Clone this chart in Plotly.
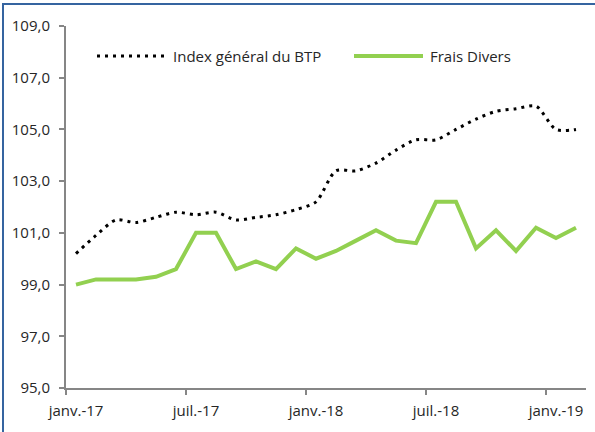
import plotly.graph_objects as go

months = ["janv.-17", "févr.-17", "mars-17", "avr.-17", "mai-17", "juin-17",
          "juil.-17", "août-17", "sept.-17", "oct.-17", "nov.-17", "déc.-17",
          "janv.-18", "févr.-18", "mars-18", "avr.-18", "mai-18", "juin-18",
          "juil.-18", "août-18", "sept.-18", "oct.-18", "nov.-18", "déc.-18",
          "janv.-19", "févr.-19"]

index_btp = [100.2, 100.9, 101.5, 101.4, 101.6, 101.8, 101.7, 101.8, 101.5, 101.6,
             101.7, 101.9, 102.2, 103.4, 103.4, 103.7, 104.2, 104.6, 104.6, 105.0,
             105.4, 105.7, 105.8, 105.9, 105.0, 105.0]

frais_divers = [99.0, 99.2, 99.2, 99.2, 99.3, 99.6, 101.0, 101.0, 99.6, 99.9,
                99.6, 100.4, 100.0, 100.3, 100.7, 101.1, 100.7, 100.6, 102.2, 102.2,
                100.4, 101.1, 100.3, 101.2, 100.8, 101.2]

label_months = ["janv.-17", "juil.-17", "janv.-18", "juil.-18", "janv.-19"]
name_btp = "Index général du BTP"
name_frais = "Frais Divers"

FONT = "Open Sans"
TXT = "#262626"
GREEN = "#92D050"
AXIS = "#868686"
BORDER = "#3564A0"

xs = list(range(len(months)))

fig = go.Figure()
fig.add_trace(go.Scatter(
    x=xs, y=index_btp, mode="lines", name=name_btp,
    line=dict(color="black", width=3, dash="3px,5px", shape="spline", smoothing=0.8),
))
fig.add_trace(go.Scatter(
    x=xs, y=frais_divers, mode="lines", name=name_frais,
    line=dict(color=GREEN, width=4),
))

tickvals = [months.index(m) for m in label_months]
boundaries = [v - 0.5 for v in tickvals]

W, H = 595, 432
L, R, T, B = 66, 9, 26, 44
pw, ph = W - L - R, H - T - B


def px(x):
    return (x - L) / pw


def py(y):
    return (H - B - y) / ph


leg_y = py(56)
shapes = [
    dict(type="line", xref="paper", yref="paper", x0=px(97), x1=px(166), y0=leg_y, y1=leg_y,
         line=dict(color="black", width=3, dash="3px,5px")),
    dict(type="line", xref="paper", yref="paper", x0=px(354), x1=px(423), y0=leg_y, y1=leg_y,
         line=dict(color=GREEN, width=4)),
    dict(type="rect", xref="paper", yref="paper", x0=px(3), x1=px(640), y0=py(4), y1=py(470),
         line=dict(color=BORDER, width=2), fillcolor="rgba(0,0,0,0)", layer="below"),
]
annotations = [
    dict(xref="paper", yref="paper", x=px(171), y=leg_y, xanchor="left", yanchor="middle",
         text=name_btp, showarrow=False, font=dict(family=FONT, size=15, color=TXT)),
    dict(xref="paper", yref="paper", x=px(428), y=leg_y, xanchor="left", yanchor="middle",
         text=name_frais, showarrow=False, font=dict(family=FONT, size=15, color=TXT)),
]

fig.update_layout(
    width=W, height=H,
    margin=dict(l=L, r=R, t=T, b=B, pad=0),
    paper_bgcolor="white", plot_bgcolor="rgba(0,0,0,0)",
    showlegend=False,
    separators=", ",
    font=dict(family=FONT, size=15, color=TXT),
    shapes=shapes,
    annotations=annotations,
    xaxis=dict(
        range=[-0.5, len(months) - 0.5],
        tickmode="array", tickvals=tickvals, ticktext=label_months,
        ticks="", showgrid=False, zeroline=False,
        showline=True, linecolor=AXIS, linewidth=2,
        ticklabelstandoff=8,
        minor=dict(tickmode="array", tickvals=boundaries, ticks="outside",
                   ticklen=5, tickcolor=AXIS, tickwidth=2, showgrid=False),
    ),
    yaxis=dict(
        range=[95, 109], tickmode="linear", tick0=95, dtick=2,
        tickformat=".1f", ticks="outside", ticklen=5, tickcolor=AXIS, tickwidth=2,
        showgrid=False, zeroline=False,
        showline=True, linecolor=AXIS, linewidth=2,
        ticklabelstandoff=6,
    ),
)

fig.write_html("out.html", config={"displayModeBar": False},
               post_script="document.body.style.margin='0';document.body.style.padding='0';")
